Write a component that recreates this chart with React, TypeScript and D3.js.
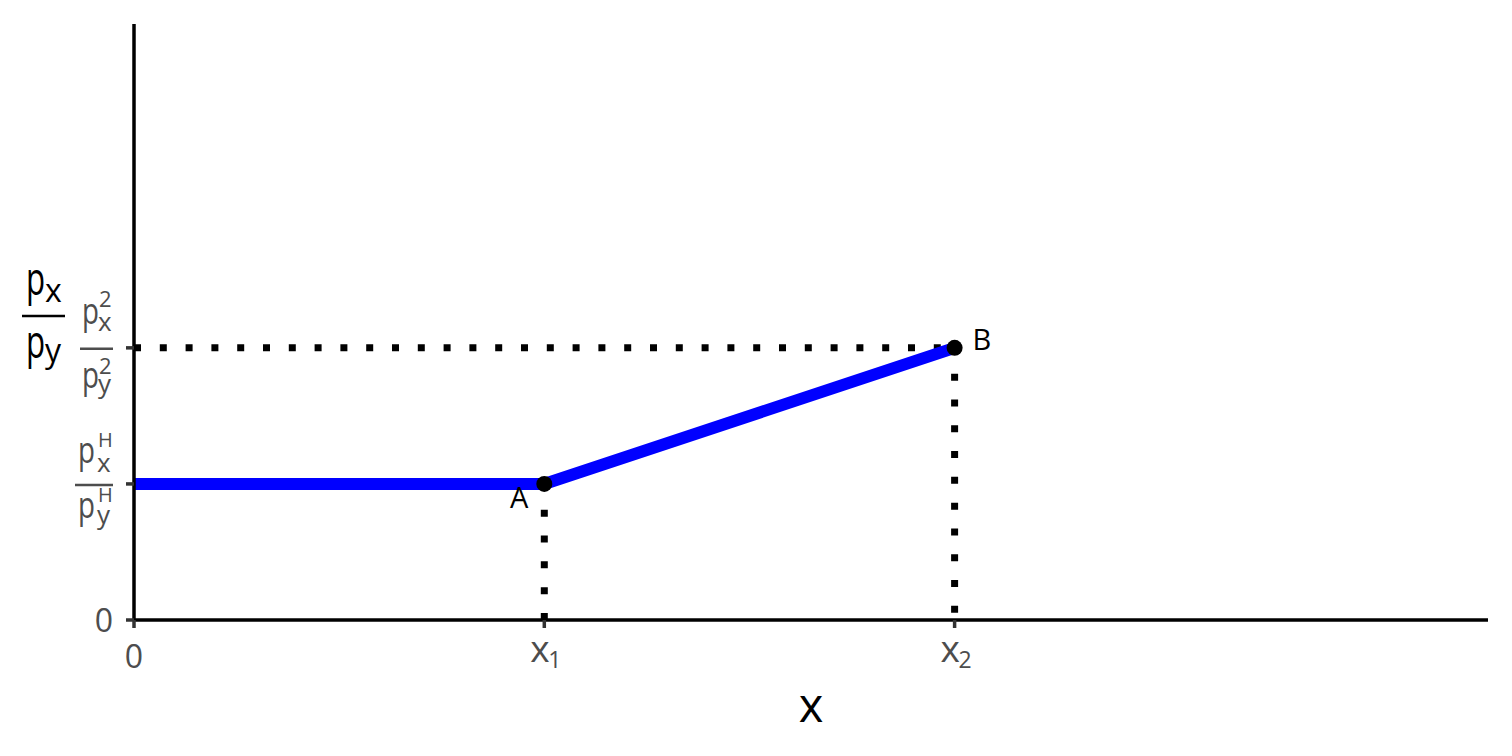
import React from "react";
import * as d3 from "d3";

const W = 1512, H = 756;
const xDomain = [0, 9.9];
const yDomain = [0, 4.38];
const linePts: [number, number][] = [[0, 1], [3, 1], [6, 2]];
const points = [
  { name: "A", x: 3, y: 1 },
  { name: "B", x: 6, y: 2 },
];
const xTicks = [
  { v: 0, main: "0", sub: "" },
  { v: 3, main: "x", sub: "1" },
  { v: 6, main: "x", sub: "2" },
];
const yTicks = [
  { v: 0, sup: "" },
  { v: 1, sup: "H" },
  { v: 2, sup: "2" },
];

const FONT = "'Open Sans', 'Noto Sans', sans-serif";
const GREY = "#4d4d4d";

type TP = { x: number; y: number; size: number; sx?: number; anchor?: string; fill?: string; children: React.ReactNode };
function T({ x, y, size, sx = 1, anchor = "start", fill = GREY, children }: TP) {
  return (
    <text transform={`translate(${x},${y}) scale(${sx},1)`} fontSize={size} fontFamily={FONT}
      textAnchor={anchor as any} fill={fill}>{children}</text>
  );
}

// layout offsets for fraction tick labels (relative to tick y)
const fracLayout: Record<string, any> = {
  "2": { barL: 80, pX: 82, sX: 98, supX: 99, nP: -24, nSub: -17, nSup: -41, dP: 40, dSub: 45, dSup: 26, supSize: 22 },
  "H": { barL: 75, pX: 78, sX: 97, supX: 98, nP: -21, nSub: -12, nSup: -37, dP: 34, dSub: 40, dSup: 18, supSize: 20 },
};

export default function App() {
  const left = 134, right = 1488, top = 24, bottom = 620;
  const x = d3.scaleLinear().domain(xDomain).range([left, right]);
  const y = d3.scaleLinear().domain(yDomain).range([bottom, top]);
  const line = d3.line<[number, number]>().x(d => x(d[0])).y(d => y(d[1]));
  const A = points[0], B = points[1];

  const frac = (b: number, sup: string, key: number) => {
    const L = fracLayout[sup];
    return (
      <g key={key}>
        <line x1={L.barL} x2={113} y1={b + 1} y2={b + 1} stroke={GREY} strokeWidth={2.5} />
        <T x={L.pX} y={b + L.nP} size={37} sx={0.75}>p</T>
        <T x={L.sX} y={b + L.nSub} size={26}>x</T>
        <T x={L.supX} y={b + L.nSup} size={L.supSize}>{sup}</T>
        <T x={L.pX} y={b + L.dP} size={37} sx={0.75}>p</T>
        <T x={L.sX} y={b + L.dSub} size={26}>y</T>
        <T x={L.supX} y={b + L.dSup} size={L.supSize}>{sup}</T>
      </g>
    );
  };

  return (
    <svg width={W} height={H} style={{ position: "absolute", left: 0, top: 0, background: "#fff" }}>
      {/* dotted guide lines */}
      <g stroke="#000" strokeWidth={7} strokeDasharray="7 18.8" fill="none">
        <line x1={x(0)} x2={x(B.x)} y1={y(B.y)} y2={y(B.y)} />
        <line x1={x(A.x)} x2={x(A.x)} y1={y(A.y)} y2={y(0)} />
        <line x1={x(B.x)} x2={x(B.x)} y1={y(B.y)} y2={y(0)} />
      </g>
      {/* blue curve */}
      <path d={line(linePts) || ""} stroke="#0000ff" strokeWidth={12} fill="none" />
      {points.map(p => (
        <circle key={p.name} cx={x(p.x)} cy={y(p.y)} r={8} fill="#000" />
      ))}
      <T x={x(A.x) - 16} y={y(A.y) + 24} size={29} anchor="end" fill="#000">A</T>
      <T x={x(B.x) + 18} y={y(B.y) + 2} size={29} fill="#000">B</T>
      {/* axes */}
      <line x1={left} x2={right} y1={bottom} y2={bottom} stroke="#000" strokeWidth={3.5} />
      <line x1={left} x2={left} y1={top} y2={bottom} stroke="#000" strokeWidth={3.5} />
      {xTicks.map(t => (
        <g key={t.v}>
          <line x1={x(t.v)} x2={x(t.v)} y1={bottom} y2={bottom + 8} stroke="#333" strokeWidth={3.5} />
          {t.sub ? (
            <>
              <T x={x(t.v) - 14} y={662} size={37}>{t.main}</T>
              <T x={x(t.v) + 4} y={668} size={23}>{t.sub}</T>
            </>
          ) : (
            <T x={x(t.v)} y={668} size={32} anchor="middle">{t.main}</T>
          )}
        </g>
      ))}
      {yTicks.map((t, i) => (
        <g key={t.v}>
          <line x1={left - 8} x2={left} y1={y(t.v)} y2={y(t.v)} stroke="#333" strokeWidth={3.5} />
          {t.sup === "" ? (
            <T x={113} y={y(t.v) + 12} size={32} anchor="end">0</T>
          ) : (
            frac(y(t.v), t.sup, i)
          )}
        </g>
      ))}
      {/* axis titles */}
      <T x={811} y={722} size={47} anchor="middle" fill="#000">x</T>
      <line x1={22} x2={65} y1={316} y2={316} stroke="#000" strokeWidth={2.5} />
      <T x={26} y={295} size={46} sx={0.68} fill="#000">p</T>
      <T x={45} y={302} size={32} fill="#000">x</T>
      <T x={26} y={358} size={46} sx={0.68} fill="#000">p</T>
      <T x={45} y={362} size={32} fill="#000">y</T>
    </svg>
  );
}
